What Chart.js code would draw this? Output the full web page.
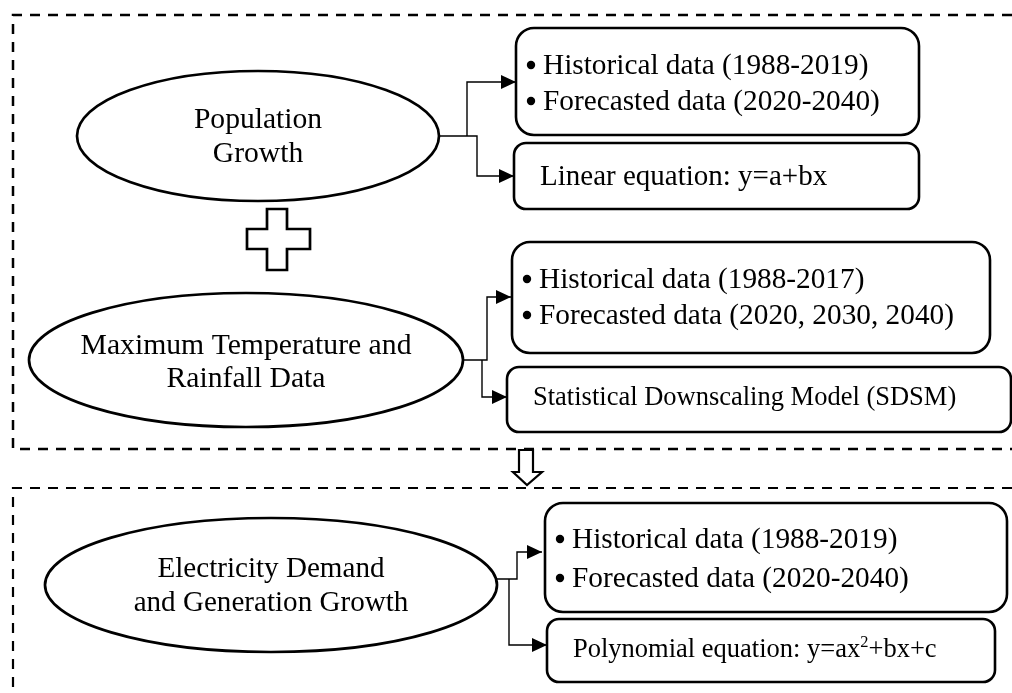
<!DOCTYPE html>
<html>
<head>
<meta charset="utf-8">
<script src="https://cdn.jsdelivr.net/npm/chart.js@4/dist/chart.umd.min.js"></script>
<style>
html,body{margin:0;padding:0;background:#fff;}
#wrap{width:1012px;height:693px;position:relative;}
</style>
</head>
<body>
<div id="wrap"><canvas id="c"></canvas></div>
<script>
// ---- Diagram data (in diagram units, mapped through Chart.js scales) ----
const ellipseLabels = [["Population","Growth"],["Maximum Temperature and","Rainfall Data"],["Electricity Demand","and Generation Growth"]];
const ellipseCenters = [[258,136],[246,360],[271,585]];
const ellipseRadii = [[181,65],[217,67],[226,67]];
const ellipseBaselines = [[128,162],[354,387],[577,611]];
const ellipseFontSize = [29.6,29.7,29.1];

const boxRects = [[516,28,919,135],[514,143,919,209],[512,242,990,353],[507,367,1011,432],[545,503,1007,612],[547,619,995,682]];
const boxRadii = [18,12,18,12,18,12];
const boxLines = [
  ["Historical data (1988-2019)","Forecasted data (2020-2040)"],
  ["Linear equation: y=a+bx"],
  ["Historical data (1988-2017)","Forecasted data (2020, 2030, 2040)"],
  ["Statistical Downscaling Model (SDSM)"],
  ["Historical data (1988-2019)","Forecasted data (2020-2040)"],
  ["Polynomial equation: y=ax|2|+bx+c"]
];
const boxBullets = [true,false,true,false,true,false];
const boxTextX = [543,540,539,533,572,573];
const boxBaselines = [[74,110],[185],[288,324],[405],[548,587],[657]];
const boxFontSize = [29.3,29,29.3,26.5,29.3,26.5];

const connectors = [
  [[438,136],[477,136],[477,176],[514,176]],
  [[467,136],[467,82],[516,82]],
  [[463,360],[487,360],[487,297],[511,297]],
  [[482,360],[482,397],[507,397]],
  [[497,579],[517,579],[517,552],[542,552]],
  [[509,579],[509,645],[547,645]]
];
const frames = [
  [[1012,15],[13,15],[13,449],[1012,449]],
  [[1012,488],[13,488],[13,693]]
];
const plusOutline = [[267,209],[287,209],[287,229],[310,229],[310,249],[287,249],[287,270],[267,270],[267,249],[247,249],[247,229],[267,229]];
const downArrowOutline = [[519,450],[533,450],[533,472],[542,472],[527,485],[513,472],[519,472]];

const FONT = '"Liberation Serif","Times New Roman",serif';

const toXY = pts => pts.map(p => ({x:p[0], y:p[1]}));

const datasets = [];
frames.forEach((f,i) => datasets.push({
  data: toXY(f), showLine:true, borderColor:'#000', borderWidth: i===0?2.5:2.2,
  borderDash:[10,8], pointRadius:0, fill:false, tension:0, clip:false
}));
connectors.forEach(c => datasets.push({
  data: toXY(c), showLine:true, borderColor:'#000', borderWidth:1.4,
  pointRadius:0, fill:false, tension:0, clip:false
}));

const diagramPlugin = {
  id:'diagram',
  afterDatasetsDraw(chart){
    const ctx = chart.ctx;
    const xs = chart.scales.x, ys = chart.scales.y;
    const X = v => xs.getPixelForValue(v);
    const Y = v => ys.getPixelForValue(v);
    ctx.save();
    ctx.lineJoin = 'miter';
    // ellipses
    ellipseCenters.forEach((c,i) => {
      const cx = X(c[0]), cy = Y(c[1]);
      const rx = Math.abs(X(c[0]+ellipseRadii[i][0]) - cx);
      const ry = Math.abs(Y(c[1]+ellipseRadii[i][1]) - cy);
      ctx.beginPath();
      ctx.ellipse(cx, cy, rx, ry, 0, 0, Math.PI*2);
      ctx.fillStyle = '#fff'; ctx.fill();
      ctx.lineWidth = 2.7; ctx.strokeStyle = '#000'; ctx.stroke();
      ctx.fillStyle = '#000';
      ctx.font = ellipseFontSize[i] + 'px ' + FONT;
      ctx.textAlign = 'center'; ctx.textBaseline = 'alphabetic';
      ellipseLabels[i].forEach((t,j) => ctx.fillText(t, cx, Y(ellipseBaselines[i][j])));
    });
    // boxes
    boxRects.forEach((r,i) => {
      const x0 = X(r[0]), y0 = Y(r[1]), x1 = X(r[2]), y1 = Y(r[3]);
      ctx.beginPath();
      ctx.roundRect(x0, y0, x1-x0, y1-y0, boxRadii[i]);
      ctx.fillStyle = '#fff'; ctx.fill();
      ctx.lineWidth = 2.6; ctx.strokeStyle = '#000'; ctx.stroke();
      ctx.fillStyle = '#000';
      const fs = boxFontSize[i];
      ctx.textAlign = 'left'; ctx.textBaseline = 'alphabetic';
      boxLines[i].forEach((t,j) => {
        const by = Y(boxBaselines[i][j]);
        let tx = X(boxTextX[i]);
        if (boxBullets[i]) {
          ctx.beginPath();
          ctx.arc(tx - 12, by - 9, 4.2, 0, Math.PI*2);
          ctx.fill();
        }
        const parts = t.split('|');
        parts.forEach((p,k) => {
          if (k % 2 === 1) {
            ctx.font = (fs*0.62) + 'px ' + FONT;
            ctx.fillText(p, tx, by - fs*0.36);
          } else {
            ctx.font = fs + 'px ' + FONT;
            ctx.fillText(p, tx, by);
          }
          tx += ctx.measureText(p).width;
        });
      });
    });
    // arrowheads on connectors
    ctx.fillStyle = '#000';
    connectors.forEach(c => {
      const e = c[c.length-1];
      const tx = X(e[0]), ty = Y(e[1]);
      ctx.beginPath();
      ctx.moveTo(tx, ty);
      ctx.lineTo(tx-15, ty-7);
      ctx.lineTo(tx-15, ty+7);
      ctx.closePath();
      ctx.fill();
    });
    // plus sign and hollow arrow
    [plusOutline, downArrowOutline].forEach((poly,i) => {
      ctx.beginPath();
      poly.forEach((p,k) => k ? ctx.lineTo(X(p[0]),Y(p[1])) : ctx.moveTo(X(p[0]),Y(p[1])));
      ctx.closePath();
      ctx.fillStyle = '#fff'; ctx.fill();
      ctx.lineWidth = i===0 ? 2.7 : 2.2; ctx.strokeStyle = '#000'; ctx.stroke();
    });
    ctx.restore();
  }
};

new Chart(document.getElementById('c'), {
  type:'scatter',
  data:{datasets},
  options:{
    responsive:true, maintainAspectRatio:false, animation:false,
    layout:{padding:0},
    plugins:{legend:{display:false}, tooltip:{enabled:false}},
    events:[],
    scales:{
      x:{type:'linear', min:0, max:1012, display:false},
      y:{type:'linear', min:0, max:693, reverse:true, display:false}
    }
  },
  plugins:[diagramPlugin]
});
</script>
</body>
</html>
